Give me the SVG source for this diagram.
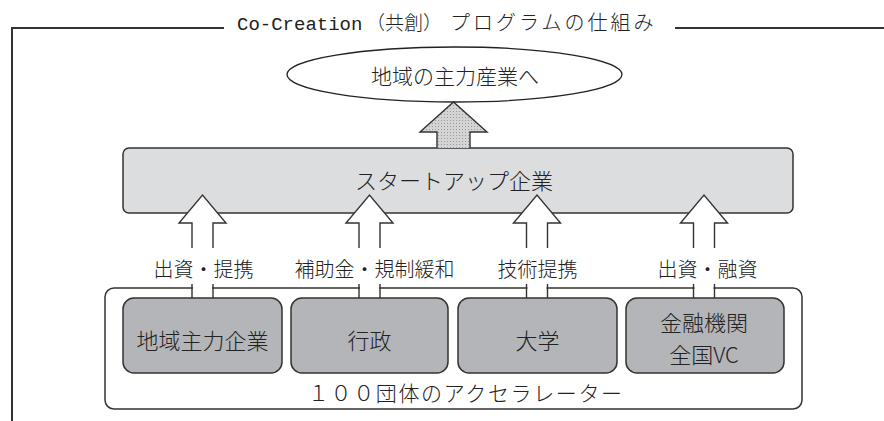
<svg xmlns="http://www.w3.org/2000/svg" width="884" height="421" viewBox="0 0 884 421">
<defs>
<style>
text{font-family:"Noto Sans CJK JP","Liberation Sans",sans-serif;font-weight:300;fill:#222;text-anchor:middle}
.title{font-size:20px;text-anchor:start}
.mono{font-family:"Liberation Mono","Noto Sans CJK JP",monospace;font-size:19px;font-weight:normal}
.frame{fill:none;stroke:#333;stroke-width:2}
.box{stroke:#333;stroke-width:1.5}
.inner{fill:#b4b5b8;stroke:#333;stroke-width:1.5}
.arr{fill:#fff;stroke:#333;stroke-width:1.4;stroke-linejoin:miter}
.lbl{font-size:20px}
.nt{font-size:22px}
</style>
<pattern id="dots" width="3" height="3" patternUnits="userSpaceOnUse">
<rect width="3" height="3" fill="#d4d4d4"/>
<rect width="1" height="1" fill="#9a9a9a"/>
</pattern>
</defs>
<rect width="884" height="421" fill="#fff"/>
<g id="frame">
<path class="frame" d="M12,421 V28 H224 M675,28 H884"/>
<text class="title" y="29.5"><tspan class="mono" x="237">Co-Creation</tspan><tspan x="366" font-size="19">（共創）</tspan><tspan x="450" letter-spacing="3">プログラムの仕組み</tspan></text>
</g>
<g id="goal">
<ellipse cx="454.5" cy="74.5" rx="167.5" ry="27.5" fill="#fff" stroke="#222" stroke-width="1.3"/>
<text x="455" y="83.5" font-size="21">地域の主力産業へ</text>
</g>
<g id="startup">
<rect class="box" x="123" y="148" width="670" height="65" rx="6" fill="#dcdddf"/>
<text class="nt" x="454" y="189">スタートアップ企業</text>
</g>
<g id="accelerator">
<rect class="box" x="105" y="288" width="697" height="121" rx="9" fill="#fff"/>
<text x="465" y="401" font-size="21" textLength="314" lengthAdjust="spacing">１００団体のアクセラレーター</text>
</g>
<g id="connectors">
<path d="M437,148 V132 H420 L453.5,102 L487,132 H470 V148" fill="url(#dots)" stroke="#333" stroke-width="1.4"/>
<g id="a1">
<path class="arr" d="M192,248 V223 H179 L202.5,195 L226,223 H213 V248"/>
<rect x="193" y="284" width="19" height="14" fill="#fff"/>
<path class="arr" d="M192,284 V298 M213,284 V298"/>
</g>
<g id="a2">
<path class="arr" d="M359,248 V223 H346 L369.5,195 L393,223 H380 V248"/>
<rect x="360" y="284" width="19" height="14" fill="#fff"/>
<path class="arr" d="M359,284 V298 M380,284 V298"/>
</g>
<g id="a3">
<path class="arr" d="M526.5,248 V223 H513.5 L537,195 L560.5,223 H547.5 V248"/>
<rect x="527.5" y="284" width="19" height="14" fill="#fff"/>
<path class="arr" d="M526.5,284 V298 M547.5,284 V298"/>
</g>
<g id="a4">
<path class="arr" d="M693.5,248 V223 H680.5 L704,195 L727.5,223 H714.5 V248"/>
<rect x="694.5" y="284" width="19" height="14" fill="#fff"/>
<path class="arr" d="M693.5,284 V298 M714.5,284 V298"/>
</g>
<text class="lbl" x="203.5" y="277">出資・提携</text>
<text class="lbl" x="374.5" y="277">補助金・規制緩和</text>
<text class="lbl" x="537.5" y="277">技術提携</text>
<text class="lbl" x="707.5" y="277">出資・融資</text>
</g>
<g id="n1">
<rect class="inner" x="123" y="298" width="159" height="75" rx="11"/>
<text class="nt" x="202.5" y="348.5">地域主力企業</text>
</g>
<g id="n2">
<rect class="inner" x="291" y="298" width="157" height="75" rx="11"/>
<text class="nt" x="369.5" y="348.5">行政</text>
</g>
<g id="n3">
<rect class="inner" x="458" y="298" width="159" height="75" rx="11"/>
<text class="nt" x="537.5" y="348.5">大学</text>
</g>
<g id="n4">
<rect class="inner" x="626" y="298" width="158" height="75" rx="11"/>
<text class="nt" x="704" y="331">金融機関</text>
<text class="nt" x="704" y="363">全国VC</text>
</g>
</svg>
